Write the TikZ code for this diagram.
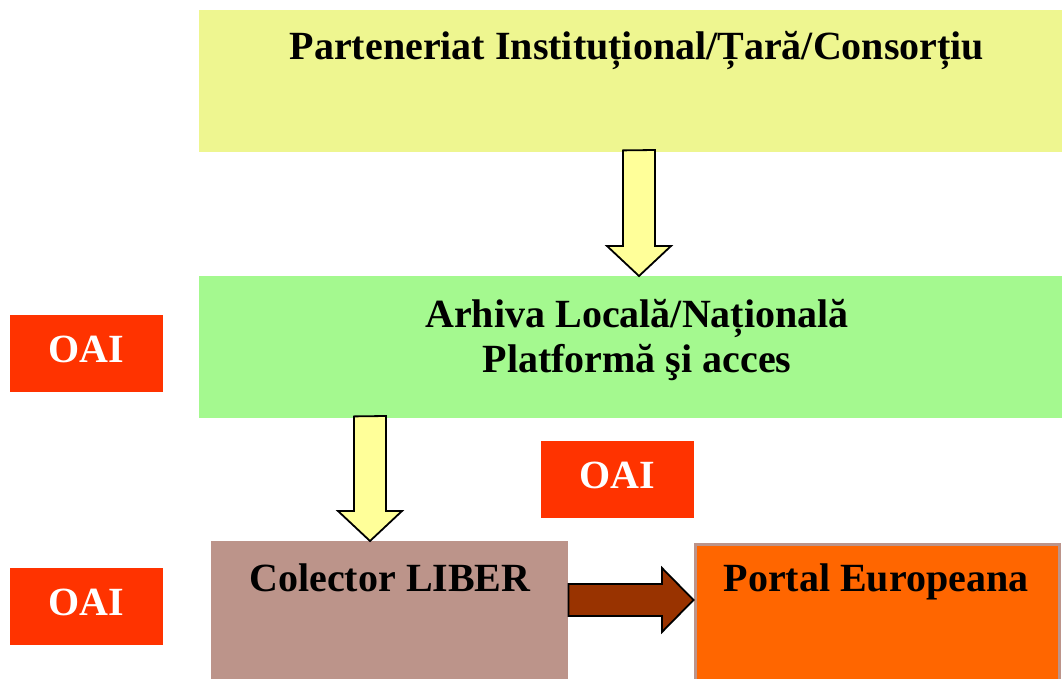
\documentclass[tikz,border=0pt]{standalone}
\usepackage{fontspec}
\setmainfont{Liberation Serif}
\usepackage{tikz}

\definecolor{partyellow}{HTML}{EEF690}
\definecolor{arhgreen}{HTML}{A4F98F}
\definecolor{oaired}{HTML}{FF3300}
\definecolor{libbrown}{HTML}{BC948A}
\definecolor{portalorange}{HTML}{FF6600}
\definecolor{arrowyellow}{HTML}{FFFF99}
\definecolor{arrowbrown}{HTML}{993300}

\begin{document}
\begin{tikzpicture}[x=1pt,y=-1pt,font=\fontsize{40}{46}\selectfont\bfseries,
  box/.style={anchor=north west,inner sep=0pt},
  oai/.style={fill=oaired,text=white,inner sep=0pt,minimum width=153,minimum height=77,text height=22pt,text depth=4pt},
  yarrow/.style={draw=black,line width=1.8pt,line join=miter,fill=arrowyellow},
  barrow/.style={draw=black,line width=1.8pt,line join=miter,fill=arrowbrown}]
\useasboundingbox (0,0) rectangle (1062,679);

% Boxes
\node[box,fill=partyellow,minimum width=863,minimum height=142] (parteneriat) at (199,10) {};
\node[box,fill=arhgreen,minimum width=863,minimum height=142] (arhiva) at (199,276) {};
\node[box,fill=libbrown,minimum width=357,minimum height=145] (colector) at (211,541) {};
\node[box,fill=portalorange,draw=libbrown,line width=3pt,minimum width=364,minimum height=145] (portal) at (693.5,542.5) {};

% Texts
\node[anchor=base] (parteneriat-txt) at (637,60) {Parteneriat Instituțional/Țară/Consorțiu};
\node[anchor=base] (arhiva-txt) at (637,327) {Arhiva Locală/Națională};
\node[anchor=base] (platforma-txt) at (637,372) {Platformă şi acces};
\node[anchor=base] (colector-txt) at (390,591) {Colector LIBER};
\node[anchor=base] (portal-txt) at (876,591) {Portal Europeana};

% OAI labels
\node[oai] (oai-a) at (86,353) {OAI};
\node[oai] (oai-b) at (617,479.5) {OAI};
\node[oai] (oai-c) at (86,606.5) {OAI};

% Arrows between boxes
\draw[yarrow] (623,0 |- parteneriat.south) ++(0,-2) -- (623,246) -- (607,246) -- (639,0 |- arhiva.north)
  -- (671,246) -- (655,246) -- (655,150) -- cycle;
\draw[yarrow] (354,0 |- arhiva.south) ++(0,-2) -- (354,511) -- (338,511) -- (370,0 |- colector.north)
  -- (402,511) -- (386,511) -- (386,416) -- cycle;
\draw[barrow] (colector.east |- 0,584) -- (662,584) -- (662,568) -- (portal.west |- 0,600)
  -- (662,632) -- (662,616) -- (colector.east |- 0,616) -- cycle;

\end{tikzpicture}
\end{document}
